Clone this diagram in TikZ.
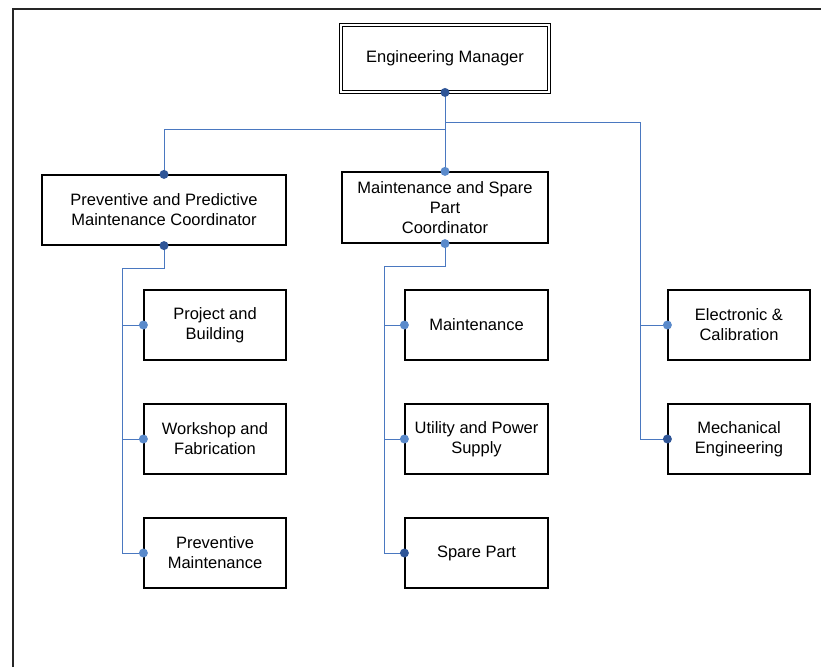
\documentclass[tikz,border=0pt]{standalone}
\usepackage{fontspec}
\setmainfont{Liberation Sans}
\usetikzlibrary{calc}
\definecolor{linkblue}{HTML}{4A78C0}
\definecolor{dotdark}{HTML}{2F5597}
\definecolor{dotlight}{HTML}{5A8ACB}
\begin{document}
\begin{tikzpicture}[x=1pt,y=-1pt,
  unit/.style={draw=black, line width=1.2pt, inner sep=0pt, align=center,
    font=\fontsize{16.5}{20}\selectfont},
  head/.style={unit, draw=black, double, double distance=2pt, line width=0.9pt,
    minimum width=208pt, minimum height=67pt},
  coord/.style={unit, minimum height=70pt},
  section/.style={unit, minimum width=142pt, minimum height=70pt},
  link/.style={draw=linkblue, line width=0.9pt},
  hubdark/.style={fill=dotdark},
  hublight/.style={fill=dotlight}]
\useasboundingbox (0,0) rectangle (821,667);

% page frame
\draw[line width=1.6pt, black!85] (13,667) -- (13,9) -- (821,9);

% boxes
\node[head] (em) at (445,58.5) {Engineering Manager};
\node[coord, minimum width=244pt] (ppmc) at (164,210)
  {Preventive and Predictive\\Maintenance Coordinator};
\node[coord, minimum width=206pt, minimum height=71pt] (mspc) at (445,207.5)
  {Maintenance and Spare\\Part\\Coordinator};

\node[section] (pb) at (215,325) {Project and\\Building};
\node[section] (wf) at (215,439) {Workshop and\\Fabrication};
\node[section] (pm) at (215,553) {Preventive\\Maintenance};

\node[section, minimum width=143pt] (mt) at (476.5,325) {Maintenance};
\node[section, minimum width=143pt] (up) at (476.5,439) {Utility and Power\\Supply};
\node[section, minimum width=143pt] (sp) at (476.5,553) {Spare Part};

\node[section] (ec) at (739,325) {Electronic \&\\Calibration};
\node[section] (me) at (739,439) {Mechanical\\Engineering};

% trunk points
\coordinate (rt) at (640,122);
\coordinate (lt) at (122,268);
\coordinate (mt0) at (384,266);

% connectors from the manager
\draw[link] (em.south) -- (mspc.north);
\draw[link] (em.south) -- ++(0,37) -| (ppmc.north);
\draw[link] (em.south) |- (rt) |- (me.west);
\draw[link] (rt |- ec.west) -- (ec.west);

% connectors from the left coordinator
\draw[link] (ppmc.south) |- (lt) |- (pm.west);
\draw[link] (lt |- pb.west) -- (pb.west);
\draw[link] (lt |- wf.west) -- (wf.west);

% connectors from the middle coordinator
\draw[link] (mspc.south) |- (mt0) |- (sp.west);
\draw[link] (mt0 |- mt.west) -- (mt.west);
\draw[link] (mt0 |- up.west) -- (up.west);

% junction dots
\foreach \p/\s in {em.south/hubdark, ppmc.north/hubdark, ppmc.south/hubdark,
    sp.west/hubdark, me.west/hubdark,
    mspc.north/hublight, mspc.south/hublight, pb.west/hublight,
    wf.west/hublight, pm.west/hublight, mt.west/hublight,
    up.west/hublight, ec.west/hublight}
  \fill[\s] (\p) circle (4.5pt);
\end{tikzpicture}
\end{document}
